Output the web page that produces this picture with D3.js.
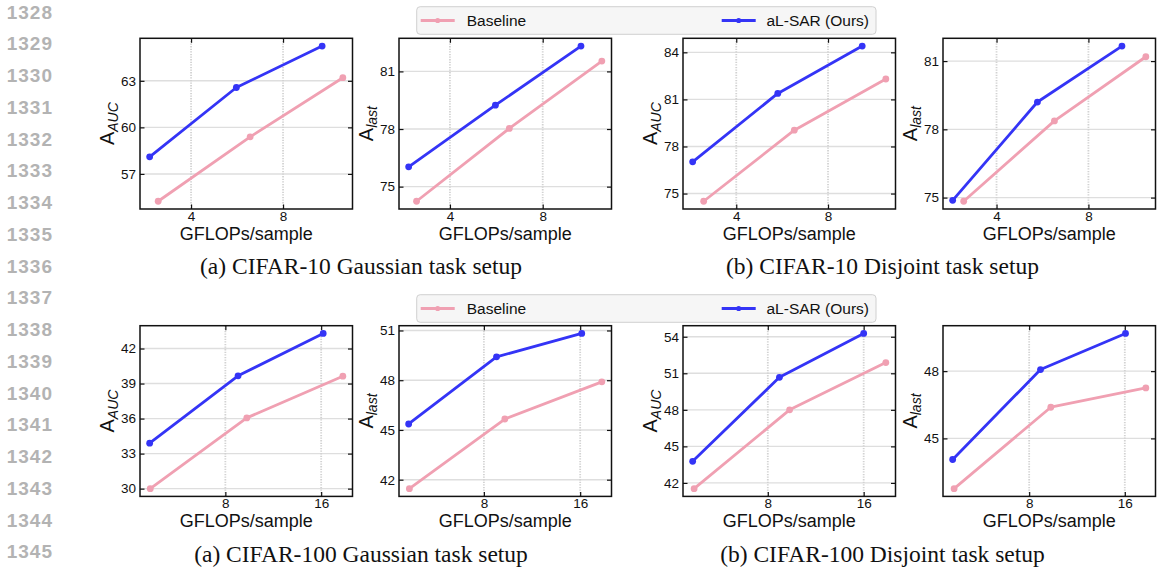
<!DOCTYPE html>
<html><head><meta charset="utf-8">
<script src="https://cdn.jsdelivr.net/npm/d3@7"></script>
<style>
html,body{margin:0;padding:0;background:#fff;}
svg{display:block;}
</style></head>
<body>
<svg id="c" width="1160" height="567"></svg>
<script>
// ---------------- DATA ----------------
const lineNumbers = [1328,1329,1330,1331,1332,1333,1334,1335,1336,1337,1338,1339,1340,1341,1342,1343,1344,1345];
const seriesNames = ["Baseline", "aL-SAR (Ours)"];
const xLabel = "GFLOPs/sample";
const captions = ["(a) CIFAR-10 Gaussian task setup", "(b) CIFAR-10 Disjoint task setup",
                  "(a) CIFAR-100 Gaussian task setup", "(b) CIFAR-100 Disjoint task setup"];
const xTicksTop = [4, 8];
const xTicksBottom = [8, 16];

// CIFAR-10 Gaussian, A_AUC
const c10GaussAucBaseX = [2.57, 6.57, 10.6];
const c10GaussAucBaseY = [55.24, 59.39, 63.2];
const c10GaussAucOursX = [2.2, 5.97, 9.7];
const c10GaussAucOursY = [58.1, 62.57, 65.24];
const c10GaussAucTicks = [57, 60, 63];
// CIFAR-10 Gaussian, A_last
const c10GaussLastBaseX = [2.56, 6.56, 10.55];
const c10GaussLastBaseY = [74.24, 78.03, 81.54];
const c10GaussLastOursX = [2.22, 5.96, 9.65];
const c10GaussLastOursY = [76.03, 79.24, 82.32];
const c10GaussLastTicks = [75, 78, 81];
// CIFAR-10 Disjoint, A_AUC
const c10DisjAucBaseX = [2.58, 6.53, 10.52];
const c10DisjAucBaseY = [74.51, 79.04, 82.3];
const c10DisjAucOursX = [2.1, 5.81, 9.49];
const c10DisjAucOursY = [77.02, 81.38, 84.4];
const c10DisjAucTicks = [75, 78, 81, 84];
// CIFAR-10 Disjoint, A_last
const c10DisjLastBaseX = [2.57, 6.52, 10.5];
const c10DisjLastBaseY = [74.84, 78.37, 81.19];
const c10DisjLastOursX = [2.09, 5.78, 9.46];
const c10DisjLastOursY = [74.88, 79.2, 81.66];
const c10DisjLastTicks = [75, 78, 81];
// CIFAR-100 Gaussian, A_AUC
const c100GaussAucBaseX = [1.73, 9.79, 17.81];
const c100GaussAucBaseY = [30.0, 36.06, 39.63];
const c100GaussAucOursX = [1.68, 9.06, 16.17];
const c100GaussAucOursY = [33.89, 39.66, 43.29];
const c100GaussAucTicks = [30, 33, 36, 39, 42];
// CIFAR-100 Gaussian, A_last
const c100GaussLastBaseX = [1.81, 9.74, 17.8];
const c100GaussLastBaseY = [41.46, 45.66, 47.9];
const c100GaussLastOursX = [1.75, 9.05, 16.13];
const c100GaussLastOursY = [45.36, 49.41, 50.82];
const c100GaussLastTicks = [42, 45, 48, 51];
// CIFAR-100 Disjoint, A_AUC
const c100DisjAucBaseX = [1.85, 9.82, 17.85];
const c100DisjAucBaseY = [41.53, 48.0, 51.88];
const c100DisjAucOursX = [1.73, 8.97, 16.0];
const c100DisjAucOursY = [43.77, 50.67, 54.27];
const c100DisjAucTicks = [42, 45, 48, 51, 54];
// CIFAR-100 Disjoint, A_last
const c100DisjLastBaseX = [1.72, 9.81, 17.76];
const c100DisjLastBaseY = [42.76, 46.39, 47.25];
const c100DisjLastOursX = [1.6, 8.95, 16.06];
const c100DisjLastOursY = [44.06, 48.07, 49.68];
const c100DisjLastTicks = [45, 48];

// ---------------- LAYOUT ----------------
const colors = ["#f0a0b2", "#3434f6"];
const colLefts = [140, 399, 683, 943];
const panelW = 212.5;
const rowTops = [38.3, 325.7];
const panelH = 170.7;

const panels = [
  {r:0,c:0,sub:"AUC", bx:c10GaussAucBaseX, by:c10GaussAucBaseY, ox:c10GaussAucOursX, oy:c10GaussAucOursY, yt:c10GaussAucTicks, xt:xTicksTop},
  {r:0,c:1,sub:"last", bx:c10GaussLastBaseX, by:c10GaussLastBaseY, ox:c10GaussLastOursX, oy:c10GaussLastOursY, yt:c10GaussLastTicks, xt:xTicksTop},
  {r:0,c:2,sub:"AUC", bx:c10DisjAucBaseX, by:c10DisjAucBaseY, ox:c10DisjAucOursX, oy:c10DisjAucOursY, yt:c10DisjAucTicks, xt:xTicksTop},
  {r:0,c:3,sub:"last", bx:c10DisjLastBaseX, by:c10DisjLastBaseY, ox:c10DisjLastOursX, oy:c10DisjLastOursY, yt:c10DisjLastTicks, xt:xTicksTop},
  {r:1,c:0,sub:"AUC", bx:c100GaussAucBaseX, by:c100GaussAucBaseY, ox:c100GaussAucOursX, oy:c100GaussAucOursY, yt:c100GaussAucTicks, xt:xTicksBottom},
  {r:1,c:1,sub:"last", bx:c100GaussLastBaseX, by:c100GaussLastBaseY, ox:c100GaussLastOursX, oy:c100GaussLastOursY, yt:c100GaussLastTicks, xt:xTicksBottom},
  {r:1,c:2,sub:"AUC", bx:c100DisjAucBaseX, by:c100DisjAucBaseY, ox:c100DisjAucOursX, oy:c100DisjAucOursY, yt:c100DisjAucTicks, xt:xTicksBottom},
  {r:1,c:3,sub:"last", bx:c100DisjLastBaseX, by:c100DisjLastBaseY, ox:c100DisjLastOursX, oy:c100DisjLastOursY, yt:c100DisjLastTicks, xt:xTicksBottom},
];

const svg = d3.select("#c");
const SANS = "'Liberation Sans', Arial, Helvetica, sans-serif";
const SERIF = "'Liberation Serif', 'Times New Roman', serif";

// line numbers
svg.append("g").selectAll("text").data(lineNumbers).join("text")
  .attr("x", 53).attr("y", (d,i) => 12 + i*31.76)
  .attr("text-anchor", "end").attr("dominant-baseline", "central")
  .attr("font-family", SANS).attr("font-weight", "bold").attr("font-size", 19)
  .attr("letter-spacing", 1).attr("fill", "#b3b3b3")
  .text(d => d);

function padExtent(vals) {
  const [a, b] = d3.extent(vals);
  const m = (b - a) * 0.05;
  return [a - m, b + m];
}

panels.forEach(p => {
  const x0 = colLefts[p.c], y0 = rowTops[p.r];
  const g = svg.append("g").attr("transform", `translate(${x0},${y0})`);
  const x = d3.scaleLinear().domain(padExtent(p.bx.concat(p.ox))).range([0, panelW]);
  const y = d3.scaleLinear().domain(padExtent(p.by.concat(p.oy))).range([panelH, 0]);

  // grid
  g.append("g").selectAll("line").data(p.yt).join("line")
    .attr("x1", 0).attr("x2", panelW).attr("y1", d => y(d)).attr("y2", d => y(d))
    .attr("stroke", "#dedede").attr("stroke-width", 1.4);
  g.append("g").selectAll("line").data(p.xt).join("line")
    .attr("y1", 0).attr("y2", panelH).attr("x1", d => x(d)).attr("x2", d => x(d))
    .attr("stroke", "#d2d2d2").attr("stroke-width", 1.8).attr("stroke-dasharray", "1.3,1.3");

  // axes with inward ticks
  const axL = d3.axisLeft(y).tickValues(p.yt).tickSize(-4.5).tickPadding(4).tickFormat(d3.format("d"));
  const axR = d3.axisRight(y).tickValues(p.yt).tickSize(-4.5).tickFormat("");
  const axB = d3.axisBottom(x).tickValues(p.xt).tickSize(-4.5).tickPadding(2.5).tickFormat(d3.format("d"));
  const axT = d3.axisTop(x).tickValues(p.xt).tickSize(-4.5).tickFormat("");
  const gl = g.append("g").call(axL);
  const gr = g.append("g").attr("transform", `translate(${panelW},0)`).call(axR);
  const gb = g.append("g").attr("transform", `translate(0,${panelH})`).call(axB);
  const gt = g.append("g").call(axT);
  [gl, gr, gb, gt].forEach(a => {
    a.select(".domain").remove();
    a.selectAll(".tick line").attr("stroke", "#111").attr("stroke-width", 1.2);
    a.selectAll(".tick text").attr("font-family", SANS).attr("font-size", 13.5).attr("fill", "#111");
  });

  // series
  const sets = [[p.bx, p.by], [p.ox, p.oy]];
  sets.forEach((s, si) => {
    const pts = s[0].map((v, i) => [v, s[1][i]]);
    g.append("path").datum(pts)
      .attr("d", d3.line().x(d => x(d[0])).y(d => y(d[1])))
      .attr("fill", "none").attr("stroke", colors[si]).attr("stroke-width", 2.8)
      .attr("stroke-linejoin", "round");
    g.append("g").selectAll("circle").data(pts).join("circle")
      .attr("cx", d => x(d[0])).attr("cy", d => y(d[1])).attr("r", 3.4)
      .attr("fill", colors[si]);
  });

  // frame
  g.append("rect").attr("x", 0).attr("y", 0).attr("width", panelW).attr("height", panelH)
    .attr("fill", "none").attr("stroke", "#111").attr("stroke-width", 1.5);

  // x label
  g.append("text").attr("x", panelW/2).attr("y", panelH + 31)
    .attr("text-anchor", "middle").attr("font-family", SANS).attr("font-size", 18).attr("fill", "#111")
    .text(xLabel);

  // y label
  const yl = g.append("text")
    .attr("transform", `translate(-26,${panelH/2}) rotate(-90)`)
    .attr("text-anchor", "middle").attr("font-family", SANS).attr("fill", "#111");
  yl.append("tspan").attr("font-size", 20).text("A");
  yl.append("tspan").attr("font-size", 14).attr("font-style", "italic").attr("dy", 3.5).text(p.sub);
});

// legends
[20.5, 308.5].forEach(cy => {
  const lg = svg.append("g");
  lg.append("rect").attr("x", 416.7).attr("y", cy - 13.8).attr("width", 459.3).attr("height", 27.6)
    .attr("rx", 3.5).attr("fill", "#f6f6f6").attr("stroke", "#d0d0d0").attr("stroke-width", 1);
  const hx = [420.7, 721.7], tx = [466.7, 766.5];
  seriesNames.forEach((name, i) => {
    lg.append("line").attr("x1", hx[i]).attr("x2", hx[i] + 34).attr("y1", cy).attr("y2", cy)
      .attr("stroke", colors[i]).attr("stroke-width", 2.8);
    lg.append("circle").attr("cx", hx[i] + 17).attr("cy", cy).attr("r", 2.6).attr("fill", colors[i]);
    lg.append("text").attr("x", tx[i]).attr("y", cy).attr("dominant-baseline", "central")
      .attr("font-family", SANS).attr("font-size", 15.5).attr("fill", "#111").text(name);
  });
});

// captions
const capPos = [[361, 274], [882.5, 274], [361, 562], [882.5, 562]];
svg.append("g").selectAll("text").data(captions).join("text")
  .attr("x", (d,i) => capPos[i][0]).attr("y", (d,i) => capPos[i][1])
  .attr("text-anchor", "middle").attr("font-family", SERIF).attr("font-size", 23.5).attr("fill", "#111")
  .text(d => d);
</script>
</body></html>
